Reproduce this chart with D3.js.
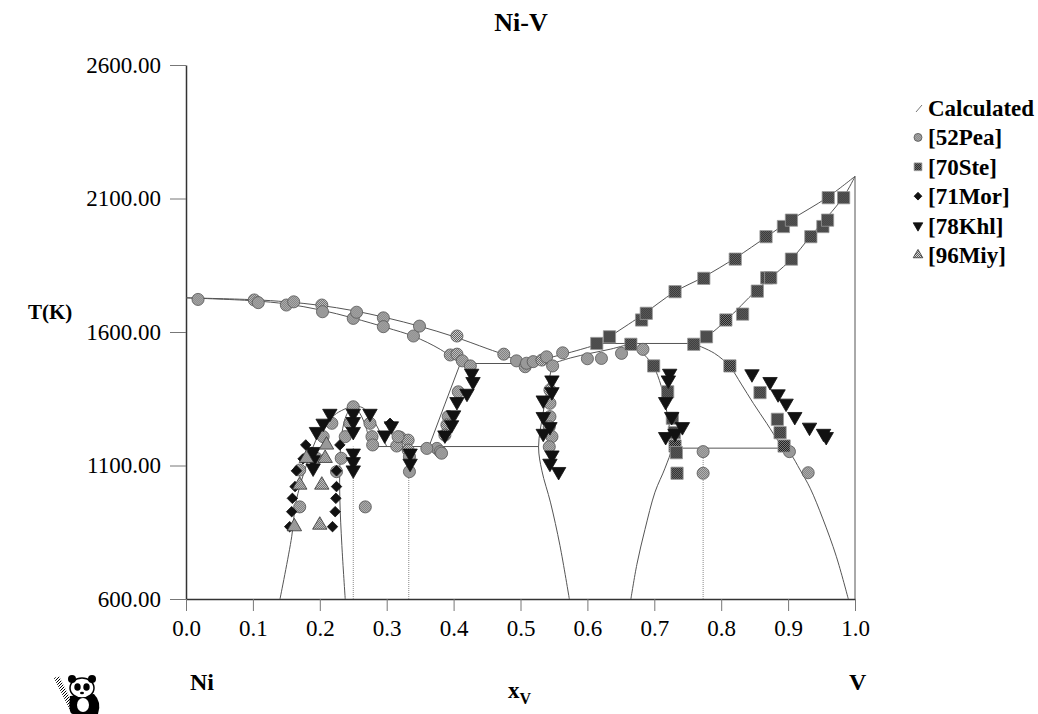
<!DOCTYPE html>
<html>
<head>
<meta charset="utf-8">
<script src="https://cdn.jsdelivr.net/npm/d3@7"></script>
<style>
  body { margin: 0; background: #fff; }
  svg { display: block; }
  text { font-family: "Liberation Serif", "Times New Roman", serif; fill: #000; }
</style>
</head>
<body>
<div id="chart"></div>
<script>
// tick values
const xTicks = [0, 0.1, 0.2, 0.3, 0.4, 0.5, 0.6, 0.7, 0.8, 0.9, 1.0];
const tTicks = [600, 1100, 1600, 2100, 2600];

// calculated phase boundaries, [xV, T(K)]
const liquidusNi = [[0,1728],[0.1,1721],[0.15,1713],[0.2,1700],[0.25,1680],[0.3,1653],[0.35,1621],[0.4,1583],[0.45,1538],[0.48,1510],[0.5,1482]];
const solidusNi = [[0,1728],[0.1,1717],[0.15,1705],[0.2,1683],[0.25,1652],[0.3,1616],[0.34,1584],[0.38,1535],[0.41,1482]];
const fccSolvus = [[0.41,1482],[0.387,1330],[0.365,1183],[0.362,1171]];
const eutectic = [[0.41,1482],[0.548,1482]];
const liquidusV = [[0.5,1482],[0.55,1508],[0.6,1542],[0.618,1557],[0.633,1582],[0.68,1660],[0.731,1751],[0.773,1805],[0.821,1877],[0.868,1957],[0.905,2021],[0.958,2103],[1,2183]];
const peritectic = [[0.618,1557],[0.758,1557]];
const solidusV = [[0.758,1557],[0.778,1582],[0.808,1645],[0.853,1757],[0.905,1873],[0.933,1957],[0.983,2107],[1,2183]];
const bccSolvus = [[0.758,1557],[0.79,1520],[0.813,1470],[0.83,1405],[0.848,1333],[0.868,1258],[0.888,1183],[0.903,1146],[0.918,1083],[0.933,1015],[0.952,900],[0.972,760],[0.99,600]];
const sigmaSolidus = [[0.548,1482],[0.575,1503],[0.604,1520],[0.635,1536],[0.666,1557]];
const sigmaRight = [[0.666,1557],[0.685,1515],[0.699,1470],[0.71,1400],[0.718,1310],[0.724,1220],[0.726,1167],[0.716,1090],[0.701,1000],[0.686,860],[0.674,730],[0.665,600]];
const sigmaLeft = [[0.548,1482],[0.541,1400],[0.534,1300],[0.527,1170],[0.532,1080],[0.545,960],[0.559,800],[0.573,600]];
const peritectoidV = [[0.726,1165],[0.895,1165]];
const eutectoidNi = [[0.275,1171],[0.527,1171]];
const ni3VLeft = [[0.1405,600],[0.158,833],[0.165,971],[0.19,1170],[0.205,1245],[0.225,1295],[0.25,1325]];
const ni3VInner = [[0.25,1325],[0.24,1290],[0.233,1220],[0.23,1100],[0.23,971],[0.233,800],[0.238,600]];
const ni3VRight = [[0.25,1325],[0.26,1295],[0.27,1235],[0.275,1171]];
const fccNi3V = [[0.25,1325],[0.265,1315],[0.28,1270],[0.29,1225],[0.3,1171]];
const pureV = [[1,600],[1,2183]];
const lineCompounds = [[[0.25,600],[0.25,1171]], [[0.333,600],[0.333,1171]], [[0.773,600],[0.773,1165]]];

// experimental points, [xV, T(K)]
const pea52 = [[0.018,1722],[0.102,1720],[0.108,1710],[0.150,1701],[0.161,1713],[0.203,1701],[0.204,1676],[0.250,1651],[0.255,1674],[0.295,1653],[0.295,1620],[0.340,1585],[0.349,1622],[0.405,1585],[0.395,1514],[0.405,1517],[0.413,1492],[0.425,1473],[0.475,1517],[0.494,1492],[0.507,1470],[0.509,1483],[0.519,1489],[0.532,1495],[0.539,1507],[0.548,1473],[0.563,1522],[0.60,1500],[0.621,1501],[0.651,1520],[0.683,1535],
  [0.407,1376],[0.392,1283],[0.390,1252],[0.387,1214],[0.375,1164],[0.380,1152],[0.382,1146],[0.360,1164],[0.320,1206],[0.332,1195],[0.315,1173],[0.332,1158],[0.334,1133],[0.334,1077],
  [0.544,1383],[0.544,1333],[0.544,1283],[0.543,1245],[0.547,1208],[0.543,1170],
  [0.773,1152],[0.773,1071],[0.902,1152],[0.930,1073],
  [0.250,1320],[0.218,1258],[0.245,1258],[0.275,1258],[0.205,1208],[0.238,1208],[0.278,1208],[0.279,1177],[0.195,1127],[0.232,1127],[0.170,1083],[0.225,1077],[0.170,945],[0.268,945],[0.317,1208]];
const ste70 = [[0.614,1557],[0.633,1582],[0.665,1554],[0.681,1645],[0.688,1670],[0.731,1751],[0.774,1801],[0.821,1873],[0.867,1957],[0.893,1995],[0.905,2019],[0.960,2103],
  [0.759,1554],[0.778,1582],[0.807,1645],[0.832,1667],[0.854,1753],[0.868,1803],[0.874,1803],[0.905,1873],[0.934,1957],[0.952,1995],[0.959,2019],[0.983,2103],
  [0.699,1473],[0.720,1376],[0.727,1277],[0.730,1223],[0.731,1173],[0.733,1148],[0.734,1071],[0.813,1473],
  [0.858,1373],[0.884,1273],[0.888,1223],[0.894,1173]];
const mor71 = [[0.179,1177],[0.230,1177],[0.188,1150],[0.175,1125],[0.165,1080],[0.225,1080],[0.163,1021],[0.225,1021],[0.159,977],[0.224,977],[0.158,927],[0.223,927],[0.155,871],[0.219,871],[0.305,1258]];
const khl78 = [[0.215,1295],[0.205,1258],[0.195,1227],[0.190,1152],[0.190,1121],[0.190,1090],[0.250,1295],[0.250,1264],[0.250,1227],[0.275,1295],[0.250,1146],[0.250,1114],[0.250,1083],[0.297,1214],
  [0.307,1248],[0.335,1146],[0.335,1108],[0.427,1445],[0.429,1414],[0.420,1370],[0.405,1339],[0.400,1289],[0.397,1252],[0.387,1214],
  [0.547,1420],[0.547,1376],[0.534,1345],[0.534,1283],[0.544,1245],[0.534,1220],[0.547,1139],[0.544,1108],[0.557,1077],
  [0.723,1445],[0.721,1420],[0.717,1339],[0.726,1283],[0.742,1245],[0.731,1220],[0.717,1208],
  [0.846,1443],[0.873,1414],[0.885,1368],[0.897,1333],[0.910,1283],[0.932,1243],[0.953,1220],[0.957,1208]];
const miy96 = [[0.210,1177],[0.180,1127],[0.208,1127],[0.170,1027],[0.203,1027],[0.200,877],[0.162,871]];

const legendLabels = ["Calculated", "[52Pea]", "[70Ste]", "[71Mor]", "[78Khl]", "[96Miy]"];

const svg = d3.select("#chart").append("svg")
    .attr("width", 1038)
    .attr("height", 714);

// fill textures
const defs = svg.append("defs");
function checker(id, a, b) {
    const p = defs.append("pattern").attr("id", id)
        .attr("width", 2).attr("height", 2).attr("patternUnits", "userSpaceOnUse");
    p.append("rect").attr("width", 2).attr("height", 2).attr("fill", a);
    p.append("rect").attr("width", 1).attr("height", 1).attr("fill", b);
    p.append("rect").attr("x", 1).attr("y", 1).attr("width", 1).attr("height", 1).attr("fill", b);
}
checker("patLight", "#d8d8d8", "#5a5a5a");
checker("patDark", "#1a1a1a", "#808080");

const x = d3.scaleLinear().domain([0, 1]).range([186, 855]);
const y = d3.scaleLinear().domain([600, 2600]).range([599, 65]);

// axes
const yAxis = svg.append("g")
    .attr("transform", "translate(186,0)")
    .call(d3.axisLeft(y).tickValues(tTicks).tickFormat(d3.format(".2f")).tickSize(16).tickSizeOuter(0).tickPadding(9));
const xAxis = svg.append("g")
    .attr("transform", "translate(0,599)")
    .call(d3.axisBottom(x).tickValues(xTicks).tickFormat(d3.format(".1f")).tickSize(12).tickSizeOuter(0).tickPadding(9));
[yAxis, xAxis].forEach(g => {
    g.select(".domain").attr("stroke", "#333").attr("stroke-width", 1.5);
    g.selectAll(".tick line").attr("stroke", "#777");
    g.selectAll("text").attr("font-size", 23).attr("font-family", "Liberation Serif, serif").attr("fill", "#000");
});

// calculated lines
const line = d3.line().x(d => x(d[0])).y(d => y(d[1])).curve(d3.curveCatmullRom);
const straight = d3.line().x(d => x(d[0])).y(d => y(d[1]));
const curves = [liquidusNi, solidusNi, liquidusV, solidusV, bccSolvus, sigmaSolidus, sigmaRight, sigmaLeft, ni3VLeft, ni3VInner, ni3VRight, fccNi3V];
const segs = [fccSolvus, eutectic, peritectic, peritectoidV, eutectoidNi, pureV];
const calc = svg.append("g").attr("fill", "none").attr("stroke", "#555").attr("stroke-width", 1);
calc.selectAll("path.c").data(curves).join("path").attr("class", "c").attr("d", line);
calc.selectAll("path.s").data(segs).join("path").attr("class", "s").attr("d", straight);
calc.selectAll("path.d").data(lineCompounds).join("path").attr("class", "d")
    .attr("d", straight).attr("stroke", "#888").attr("stroke-dasharray", "1,1");

// markers
const sym = {
    circle: d3.symbol().type(d3.symbolCircle).size(115),
    square: d3.symbol().type(d3.symbolSquare).size(150),
    diamond: d3.symbol().type(d3.symbolSquare).size(55),
    tri: d3.symbol().type(d3.symbolTriangle).size(90)
};
const series = [
    {data: pea52, path: sym.circle(), fill: "url(#patLight)", stroke: "#555", rot: 0},
    {data: ste70, path: sym.square(), fill: "url(#patDark)", stroke: "#999", rot: 0},
    {data: mor71, path: sym.diamond(), fill: "#111", stroke: "#111", rot: 45},
    {data: khl78, path: sym.tri(), fill: "#111", stroke: "#111", rot: 180},
    {data: miy96, path: sym.tri(), fill: "url(#patLight)", stroke: "#333", rot: 0}
];
series.forEach(s => {
    svg.append("g").selectAll("path")
        .data(s.data)
        .join("path")
        .attr("d", s.path)
        .attr("transform", d => `translate(${x(d[0])},${y(d[1])}) rotate(${s.rot})`)
        .attr("fill", s.fill)
        .attr("stroke", s.stroke)
        .attr("stroke-width", 0.8);
});

// legend
const leg = svg.append("g");
leg.selectAll("text").data(legendLabels).join("text")
    .attr("x", 928).attr("y", (d, i) => 108 + i * 29.4)
    .attr("dy", "0.35em")
    .attr("font-size", 23).attr("font-weight", "bold")
    .text(d => d);
leg.append("line").attr("x1", 916).attr("y1", 112).attr("x2", 922).attr("y2", 105)
    .attr("stroke", "#777").attr("stroke-width", 1);
const legSym = [
    {path: d3.symbol().type(d3.symbolCircle).size(50)(), fill: "url(#patLight)", stroke: "#555", rot: 0},
    {path: d3.symbol().type(d3.symbolSquare).size(60)(), fill: "url(#patDark)", stroke: "#999", rot: 0},
    {path: d3.symbol().type(d3.symbolSquare).size(30)(), fill: "#111", stroke: "#111", rot: 45},
    {path: d3.symbol().type(d3.symbolTriangle).size(40)(), fill: "#111", stroke: "#111", rot: 180},
    {path: d3.symbol().type(d3.symbolTriangle).size(40)(), fill: "url(#patLight)", stroke: "#333", rot: 0}
];
leg.selectAll("path").data(legSym).join("path")
    .attr("d", d => d.path)
    .attr("transform", (d, i) => `translate(918,${108 + (i + 1) * 29.4}) rotate(${d.rot})`)
    .attr("fill", d => d.fill).attr("stroke", d => d.stroke).attr("stroke-width", 0.8);

// titles
svg.append("text").attr("x", 521).attr("y", 22).attr("dy", "0.35em")
    .attr("text-anchor", "middle").attr("font-size", 26).attr("font-weight", "bold").text("Ni-V");
svg.append("text").attr("x", 28).attr("y", 312).attr("dy", "0.35em")
    .attr("font-size", 21).attr("font-weight", "bold").text("T(K)");
svg.append("text").attr("x", 190).attr("y", 682).attr("dy", "0.35em")
    .attr("font-size", 24).attr("font-weight", "bold").text("Ni");
svg.append("text").attr("x", 849).attr("y", 682).attr("dy", "0.35em")
    .attr("font-size", 24).attr("font-weight", "bold").text("V");
const xl = svg.append("text").attr("x", 508).attr("y", 690).attr("dy", "0.35em")
    .attr("font-size", 23).attr("font-weight", "bold");
xl.append("tspan").text("x");
xl.append("tspan").attr("font-size", 16).attr("dy", 6).text("V");

// panda logo
const panda = svg.append("g").attr("transform", "translate(46,666)");
const bam = defs.append("pattern").attr("id", "patBamboo").attr("width", 3).attr("height", 3)
    .attr("patternUnits", "userSpaceOnUse");
bam.append("rect").attr("width", 3).attr("height", 3).attr("fill", "#fff");
bam.append("path").attr("d", "M0,3L3,0").attr("stroke", "#000").attr("stroke-width", 1);
panda.append("path").attr("d", "M8,12 L13,10 L32,48 L26,48 Z").attr("fill", "url(#patBamboo)");
panda.append("path").attr("d", "M24,30 Q22,48 27,48 L52,48 Q56,36 48,28 Z").attr("fill", "#000");
panda.append("ellipse").attr("cx", 36).attr("cy", 22).attr("rx", 12).attr("ry", 10)
    .attr("fill", "#fff").attr("stroke", "#000").attr("stroke-width", 1.5);
panda.append("circle").attr("cx", 26).attr("cy", 13).attr("r", 4).attr("fill", "#000");
panda.append("circle").attr("cx", 46).attr("cy", 13).attr("r", 4).attr("fill", "#000");
panda.append("ellipse").attr("cx", 31.5).attr("cy", 21).attr("rx", 3.2).attr("ry", 3.8).attr("fill", "#000");
panda.append("ellipse").attr("cx", 40.5).attr("cy", 21).attr("rx", 3.2).attr("ry", 3.8).attr("fill", "#000");
panda.append("ellipse").attr("cx", 36).attr("cy", 27).attr("rx", 2).attr("ry", 1.3).attr("fill", "#000");
panda.append("ellipse").attr("cx", 37).attr("cy", 39).attr("rx", 6).attr("ry", 7).attr("fill", "#fff");
</script>
</body>
</html>
